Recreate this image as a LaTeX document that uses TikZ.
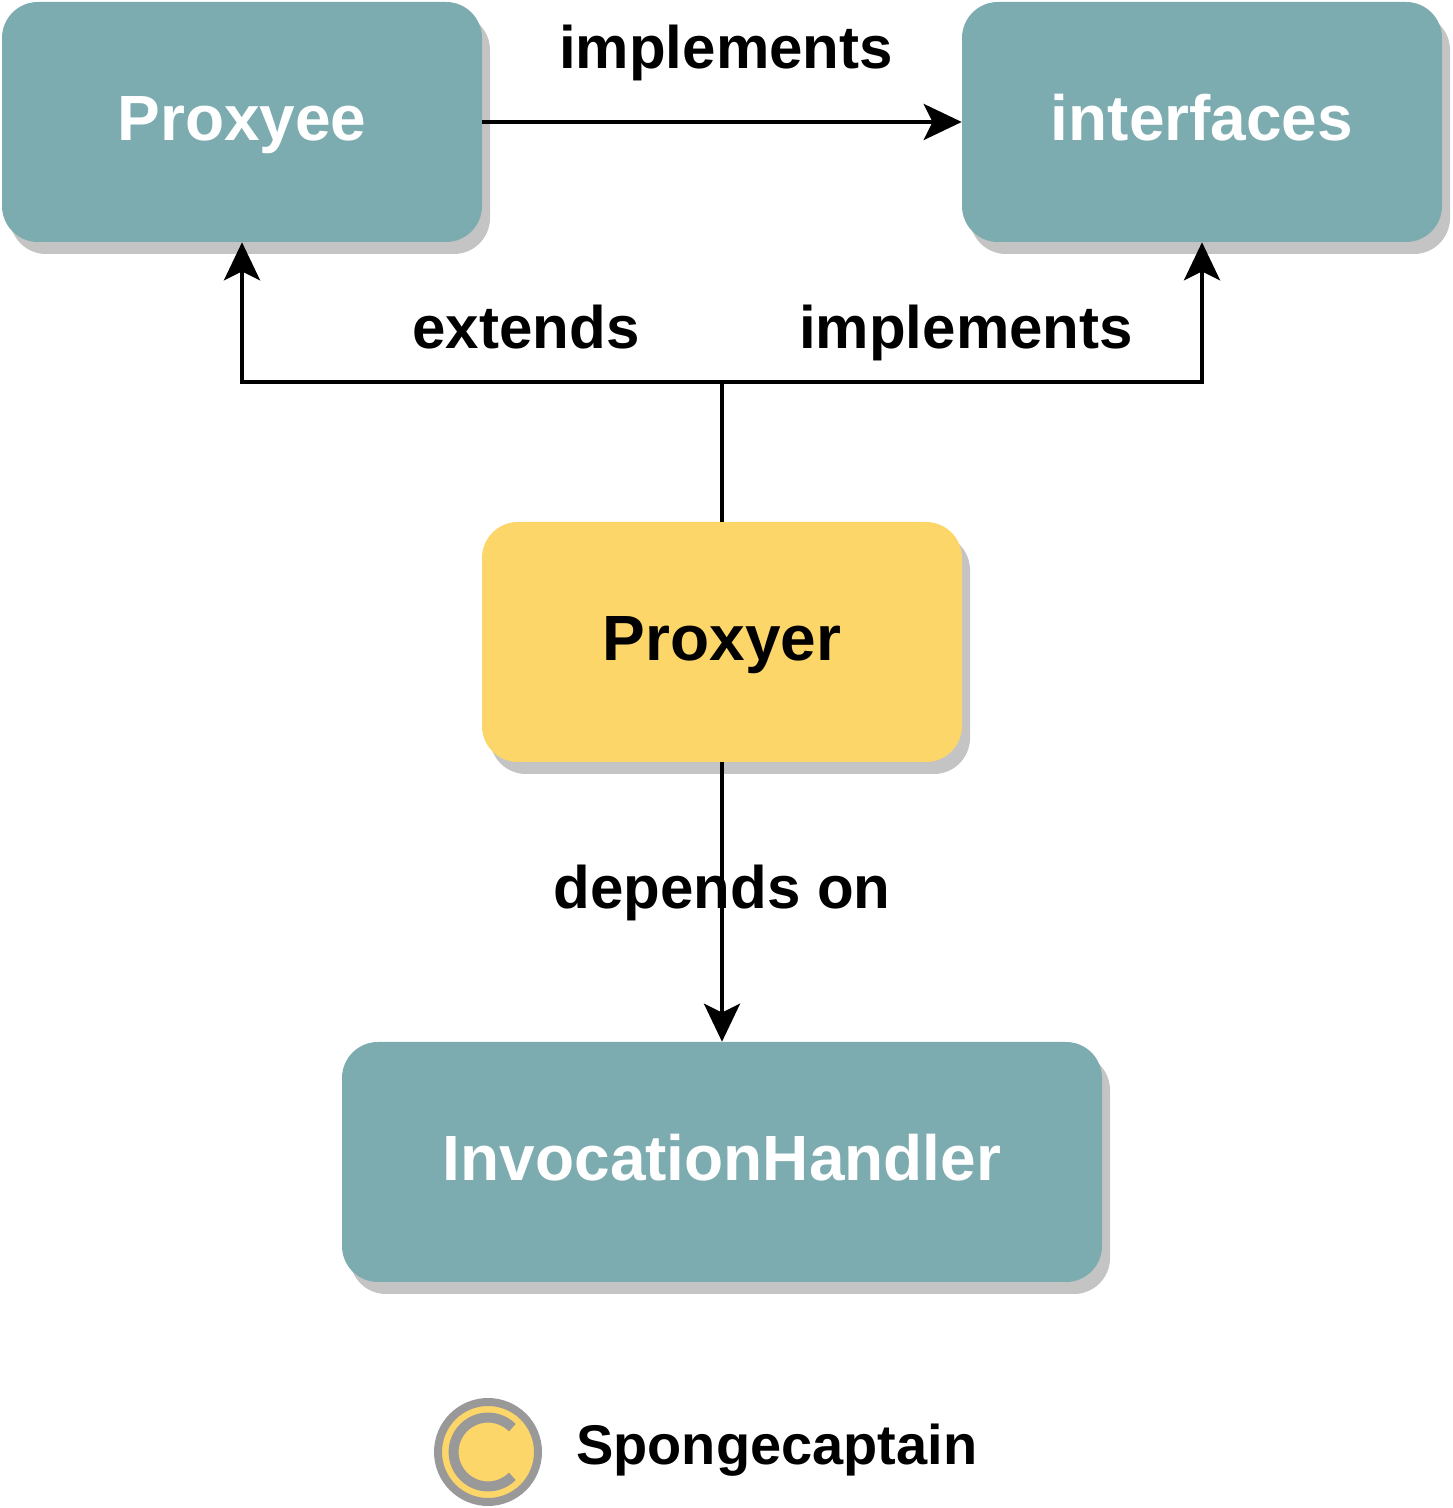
\documentclass[tikz,border=0pt]{standalone}
\usepackage{fontspec}
\setmainfont{Liberation Sans}
\usetikzlibrary{arrows.meta,shadows}
\definecolor{boxteal}{HTML}{7DACB0}
\definecolor{boxyellow}{HTML}{FCD669}
\definecolor{shadowgrey}{HTML}{C4C4C4}
\definecolor{sealgrey}{HTML}{999999}
\begin{document}
\begin{tikzpicture}[
  box/.style={rounded corners=0.9cm, minimum width=12cm, minimum height=6cm, inner sep=0pt,
    text height=0.92cm, text depth=0pt,
    font=\fontsize{45.5}{50}\selectfont\bfseries,
    drop shadow={shadow xshift=0.2cm, shadow yshift=-0.3cm, fill=shadowgrey, opacity=1}},
  tealbox/.style={box, fill=boxteal, text=white},
  conn/.style={line width=0.1cm, -{Stealth[length=0.95cm, width=0.9cm, inset=0.22cm]}},
  lbl/.style={font=\fontsize{42.7}{47}\selectfont\bfseries, inner sep=0pt, text height=0.9cm, text depth=0pt}]

\useasboundingbox (0,0) rectangle (36.3,37.7);

\node[tealbox] (proxyee) at (6.05,34.65) {Proxyee};
\node[tealbox] (ifaces) at (30.05,34.65) {interfaces};
\node[box, fill=boxyellow] (proxyer) at (18.05,21.65) {Proxyer};
\node[tealbox, minimum width=19cm] (handler) at (18.05,8.65) {InvocationHandler};
\coordinate (fork) at (18.05,28.15);

% Connectors
\draw[conn] (proxyee.east) -- (ifaces.west);
\draw[conn] (proxyer.north) -- (fork) -| (proxyee.south);
\draw[conn] (proxyer.north) -- (fork) -| (ifaces.south);
\draw[conn] (proxyer.south) -- (handler.north);

% Labels
\node[lbl] (top) at (18.15,36.425) {implements};
\node[lbl] (ext) at (13.15,29.425) {extends};
\node[lbl] (imp) at (24.15,29.425) {implements};
\node[lbl] (dep) at (18.05,15.425) {depends on};

% Seal
\node[circle, draw=sealgrey, fill=boxyellow, line width=0.2cm, minimum size=2.5cm, inner sep=0pt] (seal) at (12.2,1.4) {};
\draw[sealgrey, line width=0.25cm] (seal.center) ++(45:0.86cm) arc[start angle=45, end angle=315, radius=0.86cm];
\node[anchor=west, inner sep=0pt, font=\fontsize{39.8}{44}\selectfont\bfseries] (sign) at (14.4,1.45) {Spongecaptain};

\end{tikzpicture}
\end{document}
